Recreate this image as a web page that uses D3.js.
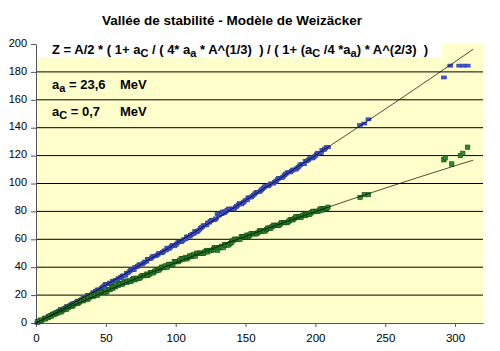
<!DOCTYPE html>
<html lang="fr">
<head>
<meta charset="UTF-8">
<title>Vallée de stabilité</title>
<script src="https://d3js.org/d3.v7.min.js"></script>
<style>
  body { margin: 0; background: #fff; font-family: "Liberation Sans", Arial, sans-serif; }
  .tick text { font-size: 11px; font-family: "Liberation Sans", Arial, sans-serif; fill: #000; }
  .lbl { font-weight: bold; fill: #000; white-space: pre; }
</style>
</head>
<body>
<svg id="chart" width="500" height="351"></svg>
<script>
// stable nuclides: mass number A, protons Z, neutrons N
const massNumbers = [
  1,2,3,4,6,7,9,10,11,12,13,14,15,16,17,18,19,20,21,22,23,24,25,26,27,28,29,30,
  31,32,33,34,35,36,37,38,39,40,41,42,43,44,45,46,47,48,49,50,51,52,53,54,55,56,57,58,59,60,
  61,62,63,64,65,66,67,68,69,70,71,72,73,74,75,76,77,78,79,80,81,82,83,84,85,86,87,88,89,90,
  91,92,93,94,95,96,97,98,99,100,101,102,103,104,105,106,107,108,109,110,111,112,113,114,115,116,117,118,119,120,
  121,122,123,124,125,126,127,128,129,130,131,132,133,134,135,136,137,138,139,140,141,142,143,144,145,146,147,148,149,150,
  151,152,153,154,155,156,157,158,159,160,161,162,163,164,165,166,167,168,169,170,171,172,173,174,175,176,177,178,179,180,
  181,182,183,184,185,186,187,188,189,190,191,192,193,194,195,196,197,198,199,200,201,202,203,204,205,206,207,208,209,
  232,235,238
];
const protons = [
  1,1,2,2,3,3,4,5,5,6,6,7,7,8,8,8,9,10,10,10,11,12,12,12,13,14,14,14,
  15,16,16,16,17,18,17,18,19,20,19,20,20,20,21,22,22,22,22,22,23,24,24,26,25,26,26,28,27,28,
  28,28,29,30,29,30,30,30,31,32,31,32,32,32,33,34,34,34,35,34,35,36,36,36,37,38,38,38,39,40,
  40,40,41,40,42,42,42,42,44,44,44,44,45,46,46,46,47,46,47,48,48,48,49,48,50,50,50,50,50,50,
  51,52,51,52,52,52,53,54,54,52,54,54,55,54,56,56,56,56,57,58,59,60,60,60,60,60,62,62,62,62,
  63,62,63,64,64,64,64,64,65,66,66,66,66,66,67,68,68,68,69,70,70,70,70,70,71,72,72,72,72,72,
  73,74,74,74,75,76,76,76,76,76,77,78,77,78,78,78,79,80,80,80,80,80,81,82,81,82,82,82,83,
  90,92,92
];
const neutrons = [
  0,1,1,2,3,4,5,5,6,6,7,7,8,8,9,10,10,10,11,12,12,12,13,14,14,14,15,16,
  16,16,17,18,18,18,20,20,20,20,22,22,23,24,24,24,25,26,27,28,28,28,29,28,30,30,31,30,32,32,
  33,34,34,34,36,36,37,38,38,38,40,40,41,42,42,42,43,44,44,46,46,46,47,48,48,48,49,50,50,50,
  51,52,52,54,53,54,55,56,55,56,57,58,58,58,59,60,60,62,62,62,63,64,64,66,65,66,67,68,69,70,
  70,70,72,72,73,74,74,74,75,78,77,78,78,80,79,80,81,82,82,82,82,82,83,84,85,86,85,86,87,88,
  88,90,90,90,91,92,93,94,94,94,95,96,97,98,98,98,99,100,100,100,101,102,103,104,104,104,105,106,107,108,
  108,108,109,110,110,110,111,112,113,114,114,114,116,116,117,118,118,118,119,120,121,122,122,122,124,124,125,126,126,
  142,143,146
];

// isolated points at the far right
const heavyA_Z = [292, 293, 297.6, 303.8, 305.5, 309];
const heavyZ = [117, 118.4, 114, 120, 121.6, 126];
const heavyA_N = [292, 296.6, 303, 306, 309];
const heavyN = [176, 184.5, 184.5, 184.5, 184.5];

// Weizsäcker curves as drawn
const curveA = [0, 10, 25, 50, 75, 100, 125, 150, 175, 200, 225, 250, 275, 300, 313];
const curveZ = [0, 4.85, 11.78, 22.76, 33.19, 43.18, 52.8, 62.11, 71.12, 79.87, 88.39, 96.69, 104.79, 112.71, 116.74];
const curveN = [0, 5.15, 13.22, 27.24, 41.81, 56.82, 72.2, 87.89, 103.88, 120.13, 136.61, 153.31, 170.21, 187.29, 196.26];

const xTicks = [0, 50, 100, 150, 200, 250, 300];
const yTicks = [0, 20, 40, 60, 80, 100, 120, 140, 160, 180, 200];

const svg = d3.select("#chart");
const x = d3.scaleLinear().domain([0, 320]).range([36, 483]);
const y = d3.scaleLinear().domain([0, 200]).range([323, 44]);

svg.append("text")
  .attr("class", "lbl")
  .attr("x", 232).attr("y", 25)
  .attr("text-anchor", "middle")
  .style("font-size", "13.5px")
  .text("Vallée de stabilité - Modèle de Weizäcker");

// plot background
svg.append("rect")
  .attr("x", x(0)).attr("y", y(200))
  .attr("width", x(320) - x(0)).attr("height", y(0) - y(200))
  .attr("fill", "#ffffcc");

// gridlines
svg.append("g").selectAll("line")
  .data(yTicks.filter(d => d > 0 && d < 200))
  .join("line")
  .attr("x1", x(0)).attr("x2", x(320))
  .attr("y1", d => y(d)).attr("y2", d => y(d))
  .attr("stroke", "#000").attr("stroke-width", 1);

// formula box
svg.append("rect")
  .attr("x", x(0) + 1).attr("y", 40)
  .attr("width", 405).attr("height", 17)
  .attr("fill", "#ffffff");

const xAxis = svg.append("g")
  .attr("transform", `translate(0,${y(0)})`)
  .call(d3.axisBottom(x).tickValues(xTicks).tickSize(4).tickSizeOuter(0).tickPadding(7));
const yAxis = svg.append("g")
  .attr("transform", `translate(${x(0)},0)`)
  .call(d3.axisLeft(y).tickValues(yTicks).tickSize(5).tickSizeOuter(0).tickPadding(4));
[xAxis, yAxis].forEach(a => {
  a.select(".domain").attr("stroke", "#555");
  a.selectAll(".tick line").attr("stroke", "#555");
});
yAxis.selectAll(".tick text").attr("dy", "0.2em");
xAxis.selectAll(".tick text").style("font-size", "11.5px");

// markers
const zPts = massNumbers.map((a, i) => [a, protons[i]]).concat(heavyA_Z.map((a, i) => [a, heavyZ[i]]));
const nPts = massNumbers.map((a, i) => [a, neutrons[i]]).concat(heavyA_N.map((a, i) => [a, heavyN[i]]));

svg.append("g").selectAll("rect")
  .data(nPts)
  .join("rect")
  .attr("x", d => x(d[0]) - 2.5).attr("y", d => y(d[1]) - 1.5)
  .attr("width", 5).attr("height", 3)
  .attr("fill", "#4056d8").attr("stroke", "#2a38a0").attr("stroke-width", 0.6);

svg.append("g").selectAll("rect")
  .data(zPts)
  .join("rect")
  .attr("x", d => x(d[0]) - 2.2).attr("y", d => y(d[1]) - 2.2)
  .attr("width", 4.4).attr("height", 4.4)
  .attr("fill", "#2f8a2f").attr("stroke", "#0f4f12").attr("stroke-width", 0.6);

// theoretical lines
const line = d3.line().x(d => x(d[0])).y(d => y(d[1])).curve(d3.curveMonotoneX);
[curveZ, curveN].forEach(s => {
  svg.append("path")
    .datum(curveA.map((a, i) => [a, s[i]]))
    .attr("d", line)
    .attr("fill", "none")
    .attr("stroke", "#000")
    .attr("stroke-width", 0.7);
});

// annotations: text with subscripts, [text, isSub]
function richText(xx, yy, size, parts) {
  const t = svg.append("text").attr("class", "lbl")
    .attr("x", xx).attr("y", yy).style("font-size", size + "px");
  let low = false;
  parts.forEach(([s, sub]) => {
    const dy = (sub && !low) ? 3 : (!sub && low) ? -3 : 0;
    low = !!sub;
    t.append("tspan")
      .attr("dy", dy)
      .style("font-size", sub ? (size - 2) + "px" : null)
      .text(s);
  });
  return t;
}

richText(52, 54, 13, [
  ["Z = A/2 * ( 1+ a"], ["C", 1], [" / ( 4* a"], ["a", 1], [" * A^(1/3)  ) / ( 1+ (a"],
  ["C", 1], [" /4 *a"], ["a", 1], [") * A^(2/3)  )"]
]);

richText(52, 89, 13, [["a"], ["a", 1], [" = 23,6"]]);
richText(52, 116, 13, [["a"], ["C", 1], [" = 0,7"]]);
svg.append("text").attr("class", "lbl").attr("x", 120).attr("y", 89).style("font-size", "13px").text("MeV");
svg.append("text").attr("class", "lbl").attr("x", 120).attr("y", 116).style("font-size", "13px").text("MeV");
</script>
</body>
</html>
